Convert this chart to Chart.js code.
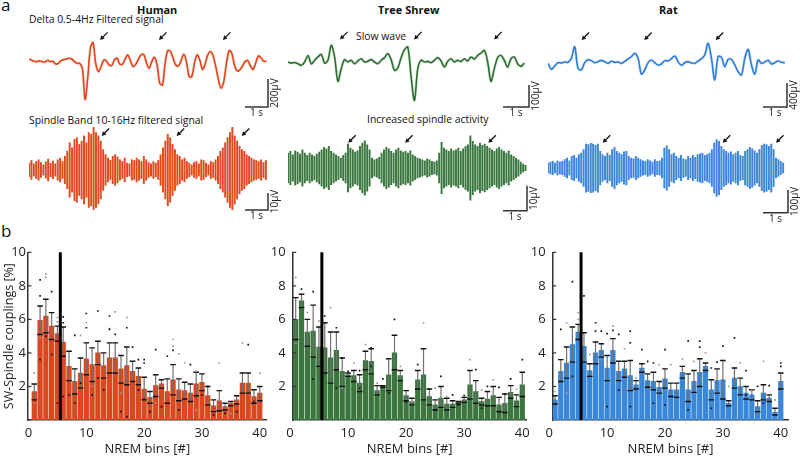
<!DOCTYPE html>
<html><head><meta charset="utf-8">
<script src="https://cdn.jsdelivr.net/npm/chart.js@4/dist/chart.umd.min.js"></script>
<style>
html,body{margin:0;padding:0;background:#fff;}
body{width:800px;height:458px;overflow:hidden;position:relative;font-family:"Open Sans",sans-serif;color:#111;}
canvas{position:absolute;}
.t{position:absolute;white-space:nowrap;line-height:1;}
.b{font-weight:bold;font-size:11px;}
.s{font-size:10.4px;}
</style></head><body>
<div class="t" style="left:1px;top:-4px;font-size:17px">a</div>
<div class="t" style="left:1px;top:222px;font-size:17px">b</div>
<div class="t b" style="left:137px;top:4px">Human</div>
<div class="t b" style="left:378px;top:4px">Tree Shrew</div>
<div class="t b" style="left:659px;top:4px">Rat</div>
<div class="t s" style="left:29px;top:14px">Delta 0.5-4Hz Filtered signal</div>
<div class="t s" style="left:356px;top:31px">Slow wave</div>
<div class="t s" style="left:29px;top:115px">Spindle Band 10-16Hz filtered signal</div>
<div class="t s" style="left:367px;top:114px">Increased spindle activity</div>
<script>
// ---------- Panel a: traces (µV) ----------
const humanDelta = [5,-2,-10,-12,-7,-14,-14,-2,-12,-10,-29,-24,-5,2,7,12,7,-10,-24,-24,-60,-281,-131,83,124,-24,-83,-48,0,-7,-36,-40,0,12,-29,-31,5,36,-5,-48,-31,5,36,40,-19,-60,-12,19,-36,-167,-179,-24,67,60,12,-36,-43,-5,40,-12,-119,-119,-24,36,0,-67,-29,36,60,29,-48,-143,-202,-155,-24,67,48,-36,-79,-71,-43,-12,-5,-43,-67,-19,29,12,-10,-7];
const shrewDelta = [0,-5,-2,-8,-15,0,30,-8,8,23,35,-5,8,76,23,-88,-30,11,0,8,-8,5,15,0,3,11,0,-8,8,20,38,11,-38,-27,20,56,68,-68,-175,-30,8,0,3,-3,8,20,5,-23,3,15,0,8,2,15,5,23,14,30,41,53,0,-88,-30,20,30,8,-23,15,23,-8,-20,-5];
const ratDelta = [-17,-117,-61,-6,-11,6,0,67,261,-100,-128,-6,44,28,-6,11,33,11,-17,17,0,6,-17,17,56,95,150,67,-195,-128,-6,39,-6,-44,-28,28,22,61,106,11,-50,-6,11,-11,-17,22,61,122,317,67,-295,95,83,-72,50,50,-44,-156,-211,67,217,-44,-195,39,-17,6,33,-28,-6,22,0,-6];
// spindle oscillation amplitudes (µV), one per cycle
const humanSpindle = [4,5.6,3.6,5,6,4.4,3,4.8,6.4,4,5.2,3.6,6,7,5,8,11,16,13,18,19,15,17,20,16,22,21,25,22,20,17,12,9,7,5.6,8,9,7.6,6,5,7,4,3.6,6,5.6,7,6,5,8,6,4.4,3.6,5,4,5.6,9,13,17,21,19,15,12,9,8,6,7,5,4,3,4.4,5,3.6,6,5.6,4,3,5,4.4,6,8,11,13,16,19,22,25,20,17,14,12,11,9,8,7,6,5.6,5,6,4.4,5.6];
const shrewSpindle = [6,6.7,5.3,6.9,6.4,5.6,7.3,6,5.1,6,5.3,4.7,5.6,6.4,7.3,8.3,7.7,8.7,6.7,6,5.3,4.7,4,5.1,6,9.6,8,7.3,6.4,6.9,8.7,10,10.9,9.3,7.3,4,3.3,3.7,4.3,6,7.3,8.3,7.7,6.7,6,7.3,8,6.9,6.4,6.7,6,6.9,5.3,4.7,4,3.7,3.3,2.9,3.7,3.3,2.7,2.4,2.9,6,10.3,8,7.3,6.7,7.7,6.9,7.3,8,6.7,7.7,8.7,9.3,12.9,10.7,9.3,8.7,10,9.1,9.6,8.7,8,7.3,6.7,7.7,8.3,7.3,6.7,6,6.9,5.3,4.7,4,3.3,2.4,1.6,1.1];
const ratSpindle = [22,26,29,22,32,26,29,37,44,32,51,56,44,59,66,81,106,103,109,106,100,106,74,59,51,66,56,81,91,74,66,59,71,74,51,44,41,51,44,37,32,29,37,32,26,37,29,32,44,88,98,81,59,66,51,44,56,41,37,51,44,56,47,59,62,66,56,59,66,81,110,125,118,96,81,74,66,71,59,66,74,56,51,74,81,91,85,76,66,81,100,106,103,96,106,81,44,37,29,22];
// slow-wave / spindle arrows: [time s, µV] of arrow tips
const humanDeltaArrows = [[3.09,143],[5.65,143],[8.43,143]];
const shrewDeltaArrows = [[2.0,103],[4.85,103],[7.93,103]];
const ratDeltaArrows = [[1.40,372],[4.01,372],[6.99,372]];
const humanSpindleArrows = [[3.16,20],[6.42,20],[9.25,20]];
const shrewSpindleArrows = [[2.51,10.1],[4.88,10.1],[8.35,10.1]];
const ratSpindleArrows = [[2.19,111],[6.99,111],[9.12,111]];

// ---------- Panel b: SW-spindle couplings (%) per NREM bin ----------
const bins = Array.from({length:40},(_,i)=>i+1);
const humanMean = [1.7,5.95,6.2,5.6,5.15,4.65,3.2,2.3,2.8,3.65,3.3,4.0,3.25,3.7,3.7,3.05,3.25,2.9,2.6,1.85,1.35,2.05,2.15,1.7,2.4,1.8,1.75,1.6,2.15,2.25,1.45,0.85,1.15,0.8,1.0,1.2,2.2,2.2,1.4,1.6];
const humanHi = [2.15,6.8,7.2,6.4,5.6,5.55,4.1,3.05,3.7,4.6,4.3,4.7,4.0,4.6,4.6,3.85,4.35,3.5,3.1,2.55,1.7,2.7,2.4,2.45,3.3,2.45,2.25,2.15,2.85,2.75,2.0,1.2,1.75,1.0,1.1,1.45,2.8,2.8,1.8,2.0];
const humanLo = [1.2,5.1,5.2,4.8,4.7,3.8,2.35,1.55,1.9,2.7,2.3,3.3,2.5,2.8,2.8,2.2,2.1,2.3,2.1,1.2,1.0,1.4,1.9,1.0,1.5,1.15,1.25,1.1,1.45,1.75,0.9,0.5,0.55,0.6,0.85,0.95,1.6,1.6,1.0,1.15];
const shrewMean = [6.0,7.1,5.25,5.3,4.35,4.3,3.7,4.15,2.9,2.7,2.65,2.2,3.55,3.5,1.75,2.0,2.7,4.0,2.65,1.45,1.1,2.4,2.7,1.4,0.9,1.3,0.95,0.95,1.05,1.2,2.1,1.7,1.1,1.25,1.45,0.9,1.0,1.65,1.15,2.1];
const shrewHi = [7.3,7.5,6.0,6.85,5.55,5.8,5.25,5.25,3.7,2.8,2.95,2.7,4.1,4.25,2.05,2.05,3.65,5.05,2.95,1.75,1.3,2.95,4.25,1.85,1.2,2.0,1.3,1.15,1.1,1.35,2.95,2.35,1.3,1.7,2.0,1.35,1.55,2.05,1.5,2.85];
const shrewLo = [4.8,6.7,4.4,3.75,3.2,2.8,2.2,3.0,2.0,2.6,2.3,1.7,3.0,2.75,1.5,1.95,1.75,3.0,2.35,1.15,0.9,1.85,1.2,0.9,0.6,0.75,0.6,0.75,0.95,1.05,1.25,1.0,0.9,0.85,0.85,0.5,0.45,1.3,0.8,1.4];
const ratMean = [1.2,2.9,3.4,4.5,5.25,4.4,2.95,4.0,4.15,3.1,4.15,2.9,3.05,2.65,2.1,3.1,2.35,2.3,1.95,2.45,1.8,1.8,2.85,1.8,2.3,2.85,3.2,1.8,2.35,2.4,1.0,2.5,2.0,1.6,1.5,0.8,1.6,1.3,0.45,2.3];
const ratHi = [1.45,3.6,4.35,5.55,5.7,5.2,3.35,4.65,4.55,3.85,4.85,3.5,3.5,3.55,2.35,3.35,2.75,2.85,2.3,3.05,2.2,2.2,3.2,2.75,2.95,3.65,3.4,2.4,3.05,3.55,1.15,3.1,2.5,2.0,1.8,1.15,2.1,1.5,0.7,2.8];
const ratLo = [0.95,2.3,2.5,3.45,4.8,3.45,2.6,3.35,3.75,2.35,3.4,2.35,2.55,1.75,1.85,2.85,1.95,1.8,1.6,1.9,1.4,1.35,2.5,1.1,1.65,2.0,2.95,1.2,1.6,1.25,0.85,1.9,1.5,1.25,1.2,0.5,1.2,1.1,0.3,1.85];
// individual subjects [bin, %]
const humanDotsBlack = [[2,8.35],[2,7.4],[2,3.6],[4,7.65],[4,3.9],[6,6.15],[6,5.8],[6,1.4],[8,5.05],[8,1.0],[10,6.35],[10,5.5],[12,6.5],[14,6.2],[14,5.4],[15,5.1],[17,5.5],[18,4.35],[19,3.6],[20,3.6],[20,3.4],[20,1.25],[22,4.2],[24,3.8],[25,4.15],[28,3.3],[31,2.0],[38,4.5],[7,1.5],[9,2.2],[11,1.5],[13,1.8],[16,0.5],[19,1.8],[21,0.5],[23,0.8],[26,0.6],[30,1.5],[32,0.3],[34,0.4],[36,0.5],[39,1.1],[3,5.0],[5,1.0],[12,2.5],[17,0.2]];
const humanDotsGray = [[1,2.8],[1,1.0],[3,8.7],[3,8.5],[5,6.1],[5,5.85],[9,5.05],[10,5.8],[14,5.45],[15,6.45],[17,6.1],[25,4.8],[25,4.4],[26,3.95],[27,3.4],[29,2.9],[33,3.4],[37,4.6],[40,2.8],[2,4.9],[11,2.0],[16,1.6],[22,1.0],[29,0.6],[35,0.4]];
const shrewDotsBlack = [[2,7.8],[4,7.65],[6,6.2],[8,5.5],[9,3.7],[10,2.9],[12,2.95],[14,4.3],[16,2.45],[18,6.0],[22,3.3],[24,1.85],[26,2.6],[28,1.5],[30,1.45],[32,3.0],[34,2.0],[36,1.95],[37,1.55],[38,2.45],[40,3.6],[4,2.45],[8,1.9],[12,1.9],[14,3.2],[17,1.6],[20,1.1],[25,0.6],[29,0.9],[33,0.7],[36,0.5]];
const shrewDotsGray = [[1,8.5],[1,4.6],[3,6.4],[5,5.9],[7,6.7],[9,1.9],[11,3.4],[13,4.5],[15,2.2],[19,3.2],[21,1.1],[23,5.8],[25,1.9],[27,1.4],[31,3.6],[33,1.8],[35,2.4],[39,1.85]];
const ratDotsBlack = [[2,5.4],[4,8.25],[6,7.4],[8,5.8],[8,5.3],[9,5.3],[10,5.15],[11,5.35],[12,5.1],[14,5.3],[14,4.6],[16,4.2],[17,3.5],[18,3.4],[20,4.2],[24,4.7],[26,4.7],[26,4.35],[28,3.1],[29,3.45],[30,4.4],[32,4.9],[34,2.95],[36,2.0],[38,2.05],[40,3.4],[40,3.2],[4,2.6],[10,0.8],[12,1.8],[14,0.8],[18,1.0],[20,0.9],[24,0.6],[28,0.7],[34,1.5],[37,1.0]];
const ratDotsGray = [[1,1.7],[3,5.8],[5,6.4],[5,6.0],[7,3.9],[11,5.6],[13,4.25],[15,2.5],[19,3.3],[21,3.3],[23,3.65],[25,3.5],[27,4.0],[31,2.0],[33,3.4],[35,1.8],[37,3.5],[39,1.2],[3,1.6],[9,3.6]];
const xTicks = [0,10,20,30,40];
const yTicks = [2,4,6,8,10];
const onsetBin = 5.5;

// ---------- drawing ----------
const FONT = '"Open Sans", sans-serif';
Chart.defaults.font.family = FONT;
Chart.defaults.color = '#222';

function mk(box){
  const c = document.createElement('canvas');
  c.width = box.w; c.height = box.h;
  Object.assign(c.style,{left:box.left+'px',top:box.top+'px',width:box.w+'px',height:box.h+'px'});
  document.body.appendChild(c);
  return c;
}
function pad(box, a){ return {left:a.x1-box.left, top:a.y1-box.top, right:box.left+box.w-a.x2, bottom:box.top+box.h-a.y2}; }

function traceChart(box, area, cfg){
  const isBar = cfg.kind === 'bar';
  const pts = cfg.values.map((v,i)=> isBar ? {x:i*cfg.dt, y:[-v, v]} : {x:i*cfg.dt, y:v});
  const datasets = isBar
    ? [{data:pts, backgroundColor:cfg.color, barThickness:1.3, borderWidth:0}]
    : [{data:pts, borderColor:cfg.color, borderWidth:1.6, pointRadius:0, tension:0.35, order:1},
       {data:pts, borderColor:cfg.halo, borderWidth:3, pointRadius:0, tension:0.2, order:2}];
  const deco = {id:'deco', afterDatasetsDraw(chart){
    const {ctx, scales:{x,y}} = chart;
    ctx.save();
    ctx.strokeStyle = '#333'; ctx.lineWidth = 1.5;
    const xr = x.getPixelForValue(cfg.xMax), xl = x.getPixelForValue(cfg.xMax - 1);
    const yb = y.getPixelForValue(cfg.yMin), yt = y.getPixelForValue(cfg.yMin + cfg.barUV);
    ctx.beginPath(); ctx.moveTo(xl,yb); ctx.lineTo(xr,yb); ctx.lineTo(xr,yt); ctx.stroke();
    ctx.fillStyle = '#222'; ctx.font = '10px '+FONT; ctx.textAlign='center'; ctx.textBaseline='top';
    ctx.fillText('1 s', (xl+xr)/2, yb+1.5);
    ctx.translate(xr+2.5, (yb+yt)/2); ctx.rotate(-Math.PI/2);
    ctx.fillText(cfg.barLabel, 0, 0);
    ctx.restore();
    ctx.save(); ctx.strokeStyle='#111'; ctx.fillStyle='#111'; ctx.lineWidth=1.3;
    for (const [t,v] of cfg.arrows){
      const px = x.getPixelForValue(t), py = y.getPixelForValue(v);
      ctx.beginPath(); ctx.moveTo(px+7.5,py-7.5); ctx.lineTo(px+2,py-2); ctx.stroke();
      ctx.beginPath(); ctx.moveTo(px,py); ctx.lineTo(px+4.6,py-1.3); ctx.lineTo(px+1.3,py-4.6); ctx.closePath(); ctx.fill();
    }
    ctx.restore();
  }};
  new Chart(mk(box), {
    type: isBar ? 'bar' : 'line',
    data:{datasets},
    options:{responsive:false, animation:false, events:[], devicePixelRatio:1,
      layout:{padding:pad(box,area)},
      plugins:{legend:{display:false}, tooltip:{enabled:false}},
      scales:{x:{type:'linear', display:false, offset:false, min:0, max:cfg.xMax},
              y:{display:false, min:cfg.yMin, max:cfg.yMax}}},
    plugins:[deco]
  });
}

traceChart({left:0,top:22,w:290,h:104},{x1:29,y1:28,x2:268,y2:107},
  {kind:'line', values:humanDelta, dt:0.116, xMax:10.39, yMin:-336, yMax:228, color:'#E0461C', halo:'rgba(240,170,150,0.35)', barUV:200, barLabel:'200μV', arrows:humanDeltaArrows});
traceChart({left:280,top:22,w:270,h:104},{x1:288,y1:28,x2:529,y2:107},
  {kind:'line', values:shrewDelta, dt:0.128, xMax:9.27, yMin:-205, yMax:155, color:'#2F6E33', halo:'rgba(160,200,160,0.4)', barUV:100, barLabel:'100μV', arrows:shrewDeltaArrows});
traceChart({left:540,top:22,w:260,h:104},{x1:548,y1:28,x2:787,y2:107},
  {kind:'line', values:ratDelta, dt:0.139, xMax:9.96, yMin:-746, yMax:573, color:'#2F7DD4', halo:'rgba(160,195,240,0.4)', barUV:400, barLabel:'400μV', arrows:ratDeltaArrows});
traceChart({left:0,top:118,w:290,h:112},{x1:29,y1:124,x2:268,y2:210},
  {kind:'bar', values:humanSpindle, dt:0.104, xMax:10.39, yMin:-23.5, yMax:27, color:'#E04A1F', barUV:10, barLabel:'10μV', arrows:humanSpindleArrows});
traceChart({left:280,top:118,w:270,h:112},{x1:288,y1:124,x2:527,y2:210.7},
  {kind:'bar', values:shrewSpindle, dt:0.1, xMax:9.96, yMin:-17.1, yMax:17.6, color:'#3A773E', barUV:10, barLabel:'10μV', arrows:shrewSpindleArrows});
traceChart({left:540,top:118,w:260,h:112},{x1:548,y1:124,x2:788,y2:212.7},
  {kind:'bar', values:ratSpindle, dt:0.095, xMax:9.6, yMin:-197, yMax:194, color:'#3D86D8', barUV:100, barLabel:'100μV', arrows:ratSpindleArrows});

function barPanel(box, area, cfg){
  const eb = {id:'eb', afterDatasetDraw(chart, args){
    if (args.index !== 0) return;
    const {ctx, scales:{x,y}, chartArea} = chart;
    ctx.save();
    bins.forEach((b,i)=>{
      const px = x.getPixelForValue(b), yh = y.getPixelForValue(cfg.hi[i]), yl = y.getPixelForValue(cfg.lo[i]);
      ctx.strokeStyle='#707070'; ctx.lineWidth=1.2;
      ctx.beginPath(); ctx.moveTo(px,yh); ctx.lineTo(px,yl); ctx.stroke();
      ctx.strokeStyle='#111'; ctx.lineWidth=1.4;
      ctx.beginPath(); ctx.moveTo(px-2.8,yh); ctx.lineTo(px+2.8,yh); ctx.moveTo(px-2.8,yl); ctx.lineTo(px+2.8,yl); ctx.stroke();
    });
    const lx = x.getPixelForValue(onsetBin);
    ctx.strokeStyle='#000'; ctx.lineWidth=3;
    ctx.beginPath(); ctx.moveTo(lx,y.getPixelForValue(0)); ctx.lineTo(lx,y.getPixelForValue(10)); ctx.stroke();
    ctx.strokeStyle='#333'; ctx.lineWidth=1.2;
    yTicks.forEach(v=>{ const py=y.getPixelForValue(v); ctx.beginPath(); ctx.moveTo(chartArea.left,py); ctx.lineTo(chartArea.left+3.5,py); ctx.stroke(); });
    ctx.restore();
  }};
  const p = pad(box, area);
  new Chart(mk(box), {
    type:'bar',
    data:{datasets:[
      {type:'bar', data:cfg.mean.map((v,i)=>({x:bins[i],y:v})), backgroundColor:cfg.color, barThickness:4.6, borderWidth:0, order:3},
      {type:'scatter', data:cfg.gray.map(d=>({x:d[0],y:d[1]})), pointStyle:'rect', pointRadius:1.2, pointBorderWidth:0, backgroundColor:'#9a9a9a', order:2},
      {type:'scatter', data:cfg.black.map(d=>({x:d[0],y:d[1]})), pointStyle:'rect', pointRadius:1.2, pointBorderWidth:0, backgroundColor:'#111', order:1}
    ]},
    options:{responsive:false, animation:false, events:[], devicePixelRatio:1,
      layout:{padding:{left:0, top:p.top, right:p.right, bottom:0}},
      plugins:{legend:{display:false}, tooltip:{enabled:false}},
      scales:{
        x:{type:'linear', offset:false, min:cfg.xMin, max:cfg.xMax,
           border:{color:'#333', width:1.5}, grid:{display:false, drawTicks:false},
           ticks:{padding:5, font:{size:13}, color:'#222', maxRotation:0, autoSkip:false},
           afterBuildTicks(s){ s.ticks = xTicks.map(v=>({value:v})); },
           afterFit(s){ s.height = box.top+box.h-area.y2; },
           title:{display:true, text:'NREM bins [#]', font:{size:13}, color:'#222', padding:{top:0,bottom:1}}},
        y:{min:0, max:10, border:{color:'#333', width:1.5}, grid:{display:false, drawTicks:false},
           ticks:{stepSize:2, padding:cfg.tickPad, font:{size:13}, color:'#222', callback:v=> v===0 ? '' : v},
           afterFit(s){ s.width = area.x1-box.left; },
           title: cfg.yTitle ? {display:true, text:'SW-Spindle couplings [%]', font:{size:12.5}, color:'#222', padding:{top:2,bottom:0}} : {display:false}}
      }},
    plugins:[eb]
  });
}

barPanel({left:0,top:235,w:278,h:223},{x1:28,y1:252.3,x2:266.7,y2:420},
  {mean:humanMean, hi:humanHi, lo:humanLo, black:humanDotsBlack, gray:humanDotsGray, color:'#D9481F', xMin:-0.09, xMax:41.2, tickPad:2, yTitle:true});
barPanel({left:268,top:235,w:268,h:223},{x1:292.7,y1:252.3,x2:526.7,y2:420},
  {mean:shrewMean, hi:shrewHi, lo:shrewLo, black:shrewDotsBlack, gray:shrewDotsGray, color:'#3A763D', xMin:0.48, xMax:40.76, tickPad:7, yTitle:false});
barPanel({left:528,top:235,w:272,h:223},{x1:552.7,y1:252.3,x2:788.3,y2:420},
  {mean:ratMean, hi:ratHi, lo:ratLo, black:ratDotsBlack, gray:ratDotsGray, color:'#3987D9', xMin:0.6, xMax:41.3, tickPad:7, yTitle:false});
</script>
</body></html>
